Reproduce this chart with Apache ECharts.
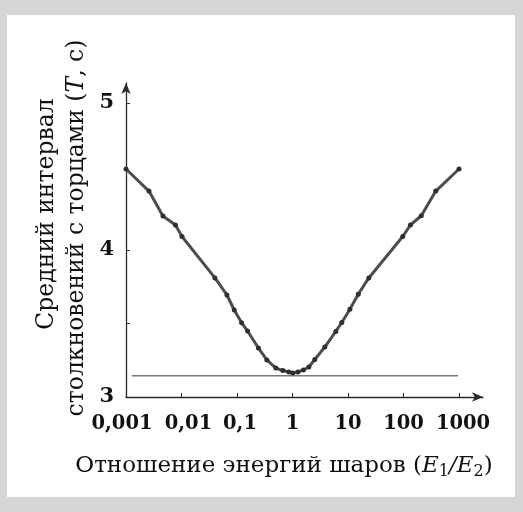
<!DOCTYPE html>
<html><head><meta charset="utf-8">
<script src="https://cdn.jsdelivr.net/npm/echarts@6/dist/echarts.min.js"></script>
<style>html,body{margin:0;padding:0;background:#d6d6d6;} #c{width:523px;height:512px;}</style>
</head><body><div id="c"></div>
<script>
// Data
const energyRatio = [0.001, 0.00259, 0.00463, 0.00778, 0.0102, 0.040, 0.0658, 0.0891, 0.121, 0.155, 0.243, 0.345, 0.501, 0.670, 0.859, 1.01, 1.25, 1.57, 1.97, 2.52, 3.82, 6.03, 7.73, 10.8, 15.3, 23.7, 96.8, 133, 209, 381, 1000];
const meanInterval = [4.551, 4.401, 4.231, 4.170, 4.092, 3.810, 3.694, 3.592, 3.505, 3.449, 3.333, 3.252, 3.197, 3.180, 3.170, 3.163, 3.170, 3.184, 3.204, 3.255, 3.340, 3.446, 3.507, 3.597, 3.699, 3.810, 4.092, 4.170, 4.233, 4.401, 4.551];
const baselineX = [0.00127, 960];
const baselineY = [3.145, 3.145];
const xTickValues = [0.001, 0.01, 0.1, 1, 10, 100, 1000];
const xTickLabels = ['0,001', '0,01', '0,1', '1', '10', '100', '1000'];
const yTickValues = [3, 3.5, 4, 5];
const yLabelValues = [3, 4, 5];

const serif = 'DejaVu Serif';
const axisColor = '#2a2a2a';
// small horizontal nudges of tick labels (as in the printed figure)
const labelShift = {'0,001': -4, '0,01': 7, '0,1': 3, '1': 0, '10': 0, '100': 0, '1000': 4};
const rich = {};
xTickLabels.forEach((t, i) => {
  const s = labelShift[t];
  rich['l' + i] = {fontFamily: serif, fontWeight: 'bold', fontSize: 19.5, color: '#111',
                   padding: [0, s < 0 ? -2 * s : 0, 0, s > 0 ? 2 * s : 0]};
});

const chart = echarts.init(document.getElementById('c'), null, {renderer: 'canvas'});
chart.setOption({
  animation: false,
  backgroundColor: '#d6d6d6',
  grid: {left: 126, right: 40, top: 83, bottom: 115, containLabel: false, outerBoundsMode: 'none'},
  xAxis: {
    type: 'log', logBase: 10, min: 0.001, max: 2704,
    axisLine: {show: true, lineStyle: {color: axisColor, width: 1.3}, symbol: ['none', 'arrow'], symbolSize: [7, 11]},
    axisTick: {show: true, inside: true, length: 4, customValues: xTickValues, lineStyle: {color: axisColor, width: 1}},
    axisLabel: {
      customValues: xTickValues,
      formatter: function (v) {
        const i = xTickValues.findIndex(t => Math.abs(Math.log10(t) - Math.log10(v)) < 0.01);
        return i >= 0 ? '{l' + i + '|' + xTickLabels[i] + '}' : '';
      },
      rich: rich,
      fontFamily: serif, fontWeight: 'bold', fontSize: 19.5, color: '#111', margin: 17
    },
    splitLine: {show: false}, minorTick: {show: false}
  },
  yAxis: {
    type: 'value', min: 3, max: 5.136,
    axisLine: {show: true, lineStyle: {color: axisColor, width: 1.3}, symbol: ['none', 'arrow'], symbolSize: [7, 11]},
    axisTick: {show: true, inside: true, length: 4, customValues: yTickValues, lineStyle: {color: axisColor, width: 1}},
    axisLabel: {customValues: yLabelValues, fontFamily: serif, fontWeight: 'bold', fontSize: 21, color: '#111', margin: 12},
    splitLine: {show: false}
  },
  graphic: [
    {type: 'rect', z: -10, shape: {x: 7, y: 15, width: 508, height: 482}, style: {fill: '#ffffff'}},
    {type: 'text', x: 47, y: 214, rotation: Math.PI / 2,
     style: {text: 'Средний интервал', fontFamily: serif, fontSize: 23.5, fill: '#111', align: 'center', verticalAlign: 'middle'}},
    {type: 'text', x: 77, y: 228, rotation: Math.PI / 2,
     style: {text: 'столкновений с торцами ({i|T}, с)', fontFamily: serif, fontSize: 23.5, fill: '#111', align: 'center', verticalAlign: 'middle',
             rich: {i: {fontFamily: serif, fontSize: 23.5, fontStyle: 'italic', fill: '#111'}}}},
    {type: 'text', x: 284, y: 466,
     style: {text: 'Отношение энергий шаров ({i|E}{s|1}{i|/E}{s|2})', fontFamily: serif, fontSize: 23, fill: '#111', align: 'center', verticalAlign: 'middle',
             lineHeight: 28,
             rich: {
               i: {fontFamily: serif, fontSize: 23, fontStyle: 'italic', fill: '#111', lineHeight: 28},
               s: {fontFamily: serif, fontSize: 16, fill: '#111', verticalAlign: 'bottom', lineHeight: 18}
             }}}
  ],
  series: [
    {
      type: 'line', z: 3,
      data: energyRatio.map((x, i) => [x, meanInterval[i]]),
      symbol: 'circle', symbolSize: 5, showSymbol: true,
      itemStyle: {color: '#2f2f2f'},
      lineStyle: {color: '#4d4d4d', width: 3}
    },
    {
      type: 'line', z: 2,
      data: baselineX.map((x, i) => [x, baselineY[i]]),
      symbol: 'none',
      lineStyle: {color: '#7a7a7a', width: 1.5}
    }
  ]
});
</script>
</body></html>
